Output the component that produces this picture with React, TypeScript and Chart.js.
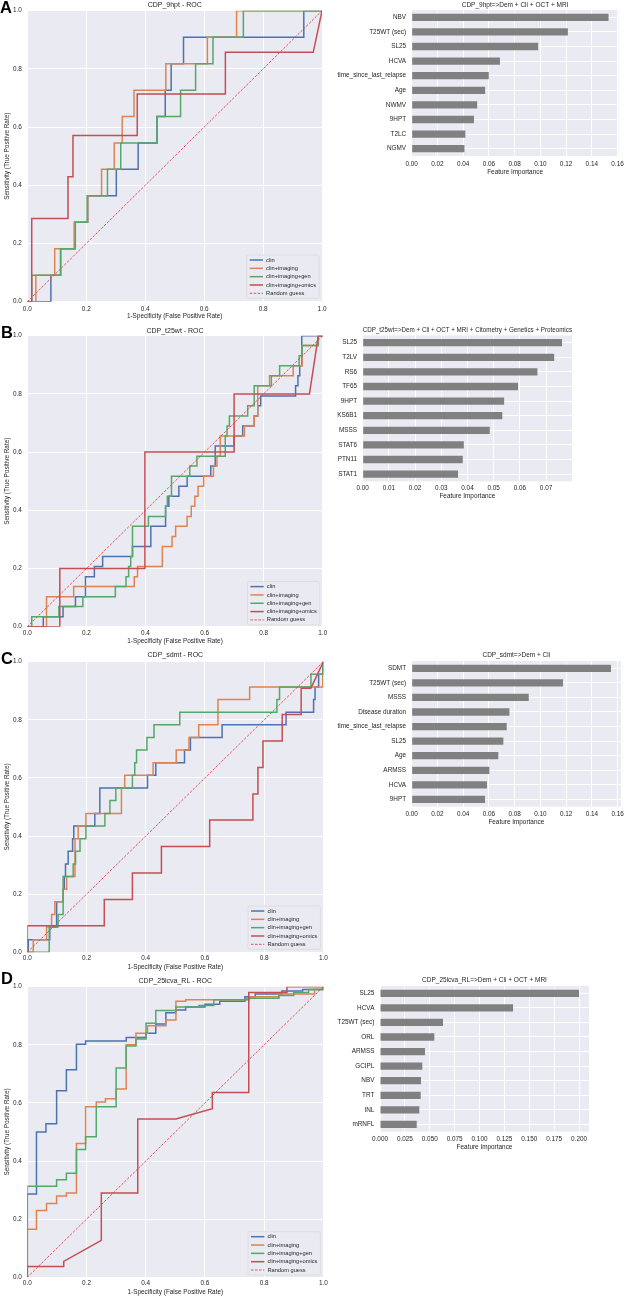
import React, { useEffect, useRef } from 'react';
import { Chart, registerables } from 'chart.js';

Chart.register(...registerables);

const FONT = "'Liberation Sans', Arial, Helvetica, sans-serif";
const TEXT = '#262626';
const BG = '#EAEAF2';
const BAR_COLOR = '#808080';
const COLORS = ['#4C72B0', '#DD8452', '#55A868', '#C44E52'];
const RANDOM_COLOR = '#E8403F';

Chart.defaults.font.family = FONT;
Chart.defaults.color = TEXT;

// ---------- DATA ----------
const seriesNames = ['clin', 'clin+imaging', 'clin+imaging+gen', 'clin+imaging+omics'];
const randomLabel = 'Random guess';
const randomGuess: [number, number][] = [[0, 0], [1, 1]];
const rocTicks = [0, 0.2, 0.4, 0.6, 0.8, 1.0];
const rocXLabel = '1-Specificity (False Positive Rate)';
const rocYLabel = 'Sensitivity (True Positive Rate)';
const barXLabel = 'Feature Importance';

type P = [number, number][];

// Panel A: CDP_9hpt
const rocA_clin: P = [[0,0],[0.08,0],[0.08,0.091],[0.113,0.091],[0.113,0.182],[0.16,0.182],[0.16,0.273],[0.205,0.273],[0.205,0.364],[0.302,0.364],[0.302,0.455],[0.376,0.455],[0.376,0.545],[0.44,0.545],[0.44,0.636],[0.468,0.636],[0.468,0.727],[0.488,0.727],[0.488,0.818],[0.53,0.818],[0.53,0.909],[0.938,0.909],[0.938,1],[1,1]];
const rocA_imaging: P = [[0,0],[0.029,0],[0.029,0.091],[0.093,0.091],[0.093,0.182],[0.16,0.182],[0.16,0.273],[0.205,0.273],[0.205,0.364],[0.252,0.364],[0.252,0.455],[0.295,0.455],[0.295,0.545],[0.322,0.545],[0.322,0.636],[0.362,0.636],[0.362,0.727],[0.47,0.727],[0.47,0.818],[0.611,0.818],[0.611,0.909],[0.71,0.909],[0.71,1],[1,1]];
const rocA_gen: P = [[0,0],[0.015,0],[0.015,0.091],[0.113,0.091],[0.113,0.182],[0.163,0.182],[0.163,0.273],[0.203,0.273],[0.203,0.364],[0.272,0.364],[0.272,0.455],[0.317,0.455],[0.317,0.545],[0.44,0.545],[0.44,0.636],[0.52,0.636],[0.52,0.727],[0.571,0.727],[0.571,0.818],[0.63,0.818],[0.63,0.909],[0.733,0.909],[0.733,1],[1,1]];
const rocA_omics: P = [[0,0],[0.015,0],[0.015,0.286],[0.138,0.286],[0.138,0.429],[0.155,0.429],[0.155,0.571],[0.373,0.571],[0.373,0.714],[0.672,0.714],[0.672,0.857],[0.97,0.857],[1,1]];

// Panel B: CDP_t25wt
const rocB_clin: P = [[0,0],[0.054,0],[0.054,0.034],[0.121,0.034],[0.121,0.069],[0.163,0.069],[0.163,0.103],[0.197,0.103],[0.197,0.172],[0.227,0.172],[0.227,0.207],[0.255,0.207],[0.255,0.241],[0.356,0.241],[0.356,0.276],[0.418,0.276],[0.418,0.345],[0.468,0.345],[0.468,0.414],[0.479,0.414],[0.479,0.448],[0.513,0.448],[0.513,0.483],[0.541,0.483],[0.541,0.517],[0.621,0.517],[0.621,0.552],[0.636,0.552],[0.636,0.621],[0.7,0.621],[0.7,0.655],[0.729,0.655],[0.729,0.69],[0.768,0.69],[0.768,0.724],[0.78,0.724],[0.78,0.759],[0.79,0.759],[0.79,0.793],[0.908,0.793],[0.908,0.828],[0.916,0.828],[0.916,0.862],[0.922,0.862],[0.922,0.897],[0.929,0.897],[0.929,1],[1,1]];
const rocB_imaging: P = [[0,0],[0.065,0],[0.065,0.103],[0.157,0.103],[0.157,0.138],[0.362,0.138],[0.362,0.172],[0.373,0.172],[0.373,0.207],[0.457,0.207],[0.457,0.276],[0.49,0.276],[0.49,0.31],[0.502,0.31],[0.502,0.345],[0.541,0.345],[0.541,0.379],[0.555,0.379],[0.555,0.414],[0.567,0.414],[0.567,0.448],[0.578,0.448],[0.578,0.483],[0.597,0.483],[0.597,0.517],[0.63,0.517],[0.63,0.552],[0.642,0.552],[0.642,0.586],[0.653,0.586],[0.653,0.655],[0.735,0.655],[0.735,0.69],[0.768,0.69],[0.768,0.724],[0.78,0.724],[0.78,0.828],[0.82,0.828],[0.82,0.862],[0.9,0.862],[0.9,0.897],[0.93,0.897],[0.93,0.966],[0.985,0.966],[0.985,1],[1,1]];
const rocB_gen: P = [[0,0],[0.015,0],[0.015,0.034],[0.107,0.034],[0.107,0.069],[0.188,0.069],[0.188,0.103],[0.298,0.103],[0.298,0.138],[0.334,0.138],[0.334,0.172],[0.343,0.172],[0.343,0.207],[0.35,0.207],[0.35,0.241],[0.356,0.241],[0.356,0.345],[0.41,0.345],[0.41,0.379],[0.468,0.379],[0.468,0.414],[0.474,0.414],[0.474,0.448],[0.488,0.448],[0.488,0.517],[0.55,0.517],[0.55,0.552],[0.574,0.552],[0.574,0.586],[0.67,0.586],[0.67,0.655],[0.676,0.655],[0.676,0.69],[0.684,0.69],[0.684,0.724],[0.746,0.724],[0.746,0.759],[0.768,0.759],[0.768,0.828],[0.826,0.828],[0.826,0.862],[0.854,0.862],[0.854,0.897],[0.92,0.897],[0.92,0.931],[0.93,0.931],[0.93,0.966],[0.985,0.966],[0.985,1],[1,1]];
const rocB_omics: P = [[0,0],[0.11,0],[0.11,0.2],[0.398,0.2],[0.398,0.6],[0.7,0.6],[0.7,0.8],[0.955,0.8],[0.985,1],[1,1]];

// Panel C: CDP_sdmt
const rocC_clin: P = [[0,0],[0.003,0],[0.003,0.043],[0.076,0.043],[0.076,0.087],[0.099,0.087],[0.099,0.174],[0.121,0.174],[0.121,0.217],[0.125,0.217],[0.125,0.261],[0.129,0.261],[0.129,0.304],[0.138,0.304],[0.138,0.348],[0.153,0.348],[0.153,0.391],[0.157,0.391],[0.157,0.435],[0.228,0.435],[0.228,0.478],[0.245,0.478],[0.245,0.565],[0.406,0.565],[0.406,0.609],[0.434,0.609],[0.434,0.652],[0.531,0.652],[0.531,0.696],[0.551,0.696],[0.551,0.739],[0.658,0.739],[0.658,0.783],[0.874,0.783],[0.874,0.826],[0.967,0.826],[0.967,0.87],[0.972,0.87],[0.972,0.913],[0.984,0.913],[0.984,0.957],[1,0.957],[1,1]];
const rocC_imaging: P = [[0,0],[0.02,0],[0.02,0.043],[0.065,0.043],[0.065,0.087],[0.082,0.087],[0.082,0.13],[0.093,0.13],[0.093,0.174],[0.121,0.174],[0.121,0.217],[0.133,0.217],[0.133,0.261],[0.161,0.261],[0.161,0.391],[0.172,0.391],[0.172,0.435],[0.198,0.435],[0.198,0.478],[0.318,0.478],[0.318,0.565],[0.329,0.565],[0.329,0.609],[0.425,0.609],[0.425,0.652],[0.503,0.652],[0.503,0.696],[0.546,0.696],[0.546,0.739],[0.579,0.739],[0.579,0.783],[0.644,0.783],[0.644,0.87],[0.751,0.87],[0.751,0.913],[0.998,0.913],[0.998,1],[1,1]];
const rocC_gen: P = [[0,0],[0.074,0],[0.074,0.087],[0.104,0.087],[0.104,0.13],[0.121,0.13],[0.121,0.261],[0.155,0.261],[0.155,0.304],[0.163,0.304],[0.163,0.348],[0.178,0.348],[0.178,0.391],[0.198,0.391],[0.198,0.435],[0.262,0.435],[0.262,0.478],[0.279,0.478],[0.279,0.522],[0.299,0.522],[0.299,0.565],[0.355,0.565],[0.355,0.609],[0.363,0.609],[0.363,0.652],[0.369,0.652],[0.369,0.696],[0.404,0.696],[0.404,0.739],[0.428,0.739],[0.428,0.783],[0.515,0.783],[0.515,0.826],[0.843,0.826],[0.843,0.87],[0.852,0.87],[0.852,0.913],[0.958,0.913],[0.958,0.957],[0.998,0.957],[0.998,1],[1,1]];
const rocC_omics: P = [[0,0],[0,0.091],[0.26,0.091],[0.26,0.182],[0.355,0.182],[0.355,0.273],[0.453,0.273],[0.453,0.364],[0.616,0.364],[0.616,0.455],[0.762,0.455],[0.762,0.545],[0.779,0.545],[0.779,0.636],[0.796,0.636],[0.796,0.727],[0.861,0.727],[0.861,0.818],[0.925,0.818],[0.925,0.909],[0.958,0.909],[1,1]];

// Panel D: CDP_25lcva_RL
const rocD_clin: P = [[0,0],[0,0.287],[0.031,0.287],[0.031,0.5],[0.063,0.5],[0.063,0.528],[0.099,0.528],[0.099,0.642],[0.132,0.642],[0.132,0.714],[0.166,0.714],[0.166,0.802],[0.197,0.802],[0.197,0.813],[0.334,0.813],[0.334,0.825],[0.401,0.825],[0.401,0.84],[0.434,0.84],[0.434,0.872],[0.468,0.872],[0.468,0.91],[0.502,0.91],[0.502,0.92],[0.535,0.92],[0.535,0.93],[0.6,0.93],[0.6,0.94],[0.65,0.94],[0.65,0.95],[0.735,0.95],[0.735,0.965],[0.77,0.965],[0.77,0.975],[0.86,0.975],[0.86,0.985],[0.93,0.985],[0.93,0.99],[1,0.99],[1,1]];
const rocD_imaging: P = [[0,0],[0,0.165],[0.031,0.165],[0.031,0.23],[0.065,0.23],[0.065,0.254],[0.099,0.254],[0.099,0.28],[0.132,0.28],[0.132,0.29],[0.166,0.29],[0.166,0.46],[0.197,0.46],[0.197,0.587],[0.233,0.587],[0.233,0.603],[0.264,0.603],[0.264,0.614],[0.3,0.614],[0.3,0.648],[0.334,0.648],[0.334,0.8],[0.367,0.8],[0.367,0.84],[0.406,0.84],[0.406,0.866],[0.468,0.866],[0.468,0.885],[0.502,0.885],[0.502,0.95],[0.535,0.95],[0.535,0.955],[0.75,0.955],[0.75,0.965],[0.85,0.965],[0.85,0.975],[0.97,0.975],[0.97,0.99],[1,0.99],[1,1]];
const rocD_gen: P = [[0,0],[0,0.313],[0.099,0.313],[0.099,0.336],[0.132,0.336],[0.132,0.358],[0.166,0.358],[0.166,0.44],[0.197,0.44],[0.197,0.484],[0.233,0.484],[0.233,0.587],[0.3,0.587],[0.3,0.72],[0.334,0.72],[0.334,0.796],[0.367,0.796],[0.367,0.82],[0.401,0.82],[0.401,0.874],[0.434,0.874],[0.434,0.918],[0.502,0.918],[0.502,0.93],[0.58,0.93],[0.58,0.935],[0.63,0.935],[0.63,0.955],[0.74,0.955],[0.74,0.96],[0.85,0.96],[0.85,0.97],[0.9,0.97],[0.9,0.98],[0.95,0.98],[0.95,0.99],[1,0.99],[1,1]];
const rocD_omics: P = [[0,0],[0,0.037],[0.123,0.037],[0.123,0.055],[0.25,0.127],[0.25,0.29],[0.373,0.29],[0.373,0.545],[0.502,0.545],[0.625,0.58],[0.625,0.636],[0.748,0.636],[0.748,0.98],[0.877,0.98],[0.877,1],[1,1]];

// Feature importance bars
const barA_labels = ['NBV', 'T25WT (sec)', 'SL25', 'HCVA', 'time_since_last_relapse', 'Age', 'NWMV', '9HPT', 'T2LC', 'NGMV'];
const barA_values = [0.153, 0.1214, 0.0983, 0.0686, 0.0599, 0.0571, 0.0509, 0.0484, 0.0417, 0.041];
const barA_ticks = [0, 0.02, 0.04, 0.06, 0.08, 0.1, 0.12, 0.14, 0.16];
const barA_xmax = 0.1607;

const barB_labels = ['SL25', 'T2LV', 'RS6', 'TF65', '9HPT', 'KS6B1', 'MSSS', 'STAT6', 'PTN11', 'STAT1'];
const barB_values = [0.0761, 0.0731, 0.0667, 0.0593, 0.054, 0.0533, 0.0485, 0.0386, 0.0382, 0.0364];
const barB_ticks = [0, 0.01, 0.02, 0.03, 0.04, 0.05, 0.06, 0.07];
const barB_xmax = 0.0799;

const barC_labels = ['SDMT', 'T25WT (sec)', 'MSSS', 'Disease duration', 'time_since_last_relapse', 'SL25', 'Age', 'ARMSS', 'HCVA', '9HPT'];
const barC_values = [0.1548, 0.1175, 0.0909, 0.0759, 0.0738, 0.0712, 0.0673, 0.0603, 0.0585, 0.057];
const barC_ticks = [0, 0.02, 0.04, 0.06, 0.08, 0.1, 0.12, 0.14, 0.16];
const barC_xmax = 0.1625;

const barD_labels = ['SL25', 'HCVA', 'T25WT (sec)', 'ORL', 'ARMSS', 'GCIPL', 'NBV', 'TRT', 'INL', 'mRNFL'];
const barD_values = [0.2, 0.1337, 0.0633, 0.0546, 0.0452, 0.0425, 0.0412, 0.0409, 0.0395, 0.0369];
const barD_ticks = [0, 0.025, 0.05, 0.075, 0.1, 0.125, 0.15, 0.175, 0.2];
const barD_xmax = 0.21;

// ---------- PLUGINS ----------
const bgPlugin = {
  id: 'axesBg',
  beforeDraw(chart: any) {
    const { ctx, chartArea } = chart;
    if (!chartArea) return;
    ctx.save();
    ctx.fillStyle = BG;
    ctx.fillRect(chartArea.left, chartArea.top, chartArea.right - chartArea.left, chartArea.bottom - chartArea.top);
    ctx.restore();
  },
};

function makeLegendPlugin(gap: number) {
  return {
    id: 'rocLegend',
    afterDraw(chart: any) {
      const { ctx, chartArea } = chart;
      const ds = chart.data.datasets;
      const fs = 5.7;
      ctx.save();
      ctx.font = `${fs}px ${FONT}`;
      let maxW = 0;
      ds.forEach((d: any) => { maxW = Math.max(maxW, ctx.measureText(d.label).width); });
      const w = 19.4 + maxW + 3;
      const h = 43.3;
      const x = chartArea.right - 3 - w;
      const y = chartArea.bottom - gap - h;
      const r = 1.5;
      ctx.beginPath();
      ctx.moveTo(x + r, y);
      ctx.lineTo(x + w - r, y);
      ctx.quadraticCurveTo(x + w, y, x + w, y + r);
      ctx.lineTo(x + w, y + h - r);
      ctx.quadraticCurveTo(x + w, y + h, x + w - r, y + h);
      ctx.lineTo(x + r, y + h);
      ctx.quadraticCurveTo(x, y + h, x, y + h - r);
      ctx.lineTo(x, y + r);
      ctx.quadraticCurveTo(x, y, x + r, y);
      ctx.closePath();
      ctx.fillStyle = 'rgba(234,234,242,0.8)';
      ctx.fill();
      ctx.strokeStyle = '#dadada';
      ctx.lineWidth = 0.8;
      ctx.stroke();
      ds.forEach((d: any, i: number) => {
        const cy = y + 5 + i * 8.33;
        ctx.beginPath();
        ctx.setLineDash(d.borderDash || []);
        ctx.strokeStyle = d.borderColor;
        ctx.lineWidth = d.borderWidth;
        ctx.moveTo(x + 3, cy);
        ctx.lineTo(x + 16.3, cy);
        ctx.stroke();
        ctx.setLineDash([]);
        ctx.fillStyle = TEXT;
        ctx.textBaseline = 'middle';
        ctx.textAlign = 'left';
        ctx.fillText(d.label, x + 19.4, cy);
      });
      ctx.restore();
    },
  };
}

type Geo = {
  left: number; top: number; w: number; h: number;
  axisLeft: number; padRight: number;
  titlePadTop: number; titlePadBottom: number;
  xAxisH: number; xTickPad: number; xTitlePadBottom: number;
  legendGap?: number;
};

const tickFont = { family: FONT, size: 6.4 };
const gridOpts = { color: '#ffffff', lineWidth: 1, drawTicks: false };

function RocChart({ title, curves, geo }: { title: string; curves: P[]; geo: Geo }) {
  const ref = useRef<HTMLCanvasElement | null>(null);
  useEffect(() => {
    if (!ref.current) return;
    const datasets: any[] = curves.map((c, i) => ({
      label: seriesNames[i],
      data: c.map(([x, y]) => ({ x, y })),
      borderColor: COLORS[i],
      borderWidth: 1.5,
      pointRadius: 0,
      tension: 0,
      fill: false,
      order: 5 - i,
    }));
    datasets.push({
      label: randomLabel,
      data: randomGuess.map(([x, y]) => ({ x, y })),
      borderColor: RANDOM_COLOR,
      borderWidth: 0.9,
      borderDash: [2.5, 1.5],
      pointRadius: 0,
      tension: 0,
      fill: false,
      order: 1,
    });
    const chart = new Chart(ref.current, {
      type: 'line',
      data: { datasets },
      options: {
        animation: false,
        responsive: false,
        devicePixelRatio: 1,
        events: [],
        layout: { padding: { left: 0, top: 0, right: geo.padRight, bottom: 0 } },
        plugins: {
          legend: { display: false },
          tooltip: { enabled: false },
          title: {
            display: true, text: title, fullSize: false, color: TEXT,
            font: { family: FONT, size: 7, weight: 'normal', lineHeight: 1.2 },
            padding: { top: geo.titlePadTop, bottom: geo.titlePadBottom },
          },
        },
        scales: {
          x: {
            type: 'linear', min: 0, max: 1,
            afterBuildTicks: (s: any) => { s.ticks = rocTicks.map((v) => ({ value: v })); },
            afterFit: (s: any) => { s.height = geo.xAxisH; },
            ticks: { autoSkip: false, maxRotation: 0, padding: geo.xTickPad, font: tickFont, color: TEXT, callback: (v: any) => Number(v).toFixed(1) },
            grid: gridOpts,
            border: { display: false },
            title: { display: true, text: rocXLabel, color: TEXT, font: { family: FONT, size: 6.4, lineHeight: 1.2 }, padding: { top: 0, bottom: geo.xTitlePadBottom } },
          },
          y: {
            type: 'linear', min: 0, max: 1,
            afterBuildTicks: (s: any) => { s.ticks = rocTicks.map((v) => ({ value: v })); },
            afterFit: (s: any) => { s.width = geo.axisLeft; },
            ticks: { autoSkip: false, padding: 5.5, font: tickFont, color: TEXT, callback: (v: any) => Number(v).toFixed(1) },
            grid: gridOpts,
            border: { display: false },
            title: { display: true, text: rocYLabel, color: TEXT, font: { family: FONT, size: 6.4, lineHeight: 1.2 }, padding: { top: 3.5, bottom: 0 } },
          },
        },
      } as any,
      plugins: [bgPlugin, makeLegendPlugin(geo.legendGap ?? 3)],
    });
    return () => chart.destroy();
  }, []);
  return (
    <canvas ref={ref} width={geo.w} height={geo.h}
      style={{ position: 'absolute', left: geo.left, top: geo.top, width: geo.w, height: geo.h }} />
  );
}

function BarChart({ title, labels, values, ticks, xmax, decimals, geo }:
  { title: string; labels: string[]; values: number[]; ticks: number[]; xmax: number; decimals: number; geo: Geo }) {
  const ref = useRef<HTMLCanvasElement | null>(null);
  useEffect(() => {
    if (!ref.current) return;
    const chart = new Chart(ref.current, {
      type: 'bar',
      data: {
        labels,
        datasets: [{ data: values, backgroundColor: BAR_COLOR, borderWidth: 0, barPercentage: 0.5, categoryPercentage: 1 }],
      },
      options: {
        indexAxis: 'y',
        animation: false,
        responsive: false,
        devicePixelRatio: 1,
        events: [],
        layout: { padding: { left: 0, top: 0, right: geo.padRight, bottom: 0 } },
        plugins: {
          legend: { display: false },
          tooltip: { enabled: false },
          title: {
            display: true, text: title, fullSize: false, color: TEXT,
            font: { family: FONT, size: 6.5, weight: 'normal', lineHeight: 1.2 },
            padding: { top: geo.titlePadTop, bottom: geo.titlePadBottom },
          },
        },
        scales: {
          x: {
            type: 'linear', min: 0, max: xmax,
            afterBuildTicks: (s: any) => { s.ticks = ticks.map((v) => ({ value: v })); },
            afterFit: (s: any) => { s.height = geo.xAxisH; },
            ticks: { autoSkip: false, maxRotation: 0, padding: geo.xTickPad, font: tickFont, color: TEXT, callback: (v: any) => Number(v).toFixed(decimals) },
            grid: gridOpts,
            border: { display: false },
            title: { display: true, text: barXLabel, color: TEXT, font: { family: FONT, size: 6.4, lineHeight: 1.2 }, padding: { top: 0, bottom: geo.xTitlePadBottom } },
          },
          y: {
            type: 'category',
            offset: true,
            afterFit: (s: any) => { s.width = geo.axisLeft; },
            ticks: { autoSkip: false, padding: 5.6, font: tickFont, color: TEXT },
            grid: { ...gridOpts, offset: false },
            border: { display: false },
          },
        },
      } as any,
      plugins: [bgPlugin],
    });
    return () => chart.destroy();
  }, []);
  return (
    <canvas ref={ref} width={geo.w} height={geo.h}
      style={{ position: 'absolute', left: geo.left, top: geo.top, width: geo.w, height: geo.h }} />
  );
}

const letterStyle = (left: number, top: number): React.CSSProperties => ({
  position: 'absolute', left, top, fontFamily: FONT, fontWeight: 'bold', fontSize: 16.5, lineHeight: '16.5px', color: '#000',
});

export default function App() {
  return (
    <div style={{ position: 'absolute', left: 0, top: 0, width: 628, height: 1299, background: '#ffffff', overflow: 'hidden' }}>
      <RocChart title="CDP_9hpt - ROC" curves={[rocA_clin, rocA_imaging, rocA_gen, rocA_omics]}
        geo={{ left: 0, top: 0, w: 330, h: 320, axisLeft: 27.3, padRight: 5, titlePadTop: 1.0, titlePadBottom: 1.3, xAxisH: 18.3, xTickPad: 3.5, xTitlePadBottom: 0.16, legendGap: 3.4 }} />
      <BarChart title="CDP_9hpt=>Dem + Cli + OCT + MRI" labels={barA_labels} values={barA_values} ticks={barA_ticks} xmax={barA_xmax} decimals={2}
        geo={{ left: 330, top: 0, w: 298, h: 177, axisLeft: 81.7, padRight: 7.1, titlePadTop: 1.1, titlePadBottom: 1.1, xAxisH: 21, xTickPad: 4.2, xTitlePadBottom: 0.86 }} />

      <RocChart title="CDP_t25wt - ROC" curves={[rocB_clin, rocB_imaging, rocB_gen, rocB_omics]}
        geo={{ left: 0, top: 320, w: 330, h: 326, axisLeft: 27.3, padRight: 5, titlePadTop: 6.5, titlePadBottom: 0.8, xAxisH: 19.3, xTickPad: 2.8, xTitlePadBottom: 0.46, legendGap: 1.8 }} />
      <BarChart title="CDP_t25wt=>Dem + Cli + OCT + MRI + Citometry + Genetics + Proteomics" labels={barB_labels} values={barB_values} ticks={barB_ticks} xmax={barB_xmax} decimals={2}
        geo={{ left: 330, top: 320, w: 298, h: 180, axisLeft: 32.7, padRight: 56, titlePadTop: 6.8, titlePadBottom: 0.8, xAxisH: 18.6, xTickPad: 3.1, xTitlePadBottom: 0.16 }} />

      <RocChart title="CDP_sdmt - ROC" curves={[rocC_clin, rocC_imaging, rocC_gen, rocC_omics]}
        geo={{ left: 0, top: 645, w: 330, h: 327, axisLeft: 27.3, padRight: 6, titlePadTop: 5.8, titlePadBottom: 2.5, xAxisH: 19.7, xTickPad: 2.2, xTitlePadBottom: 0.86, legendGap: 3 }} />
      <BarChart title="CDP_sdmt=>Dem + Cli" labels={barC_labels} values={barC_values} ticks={barC_ticks} xmax={barC_xmax} decimals={2}
        geo={{ left: 330, top: 640, w: 298, h: 186, axisLeft: 81.7, padRight: 7.1, titlePadTop: 11.1, titlePadBottom: 2.1, xAxisH: 19.3, xTickPad: 3.5, xTitlePadBottom: 0.16 }} />

      <RocChart title="CDP_25lcva_RL - ROC" curves={[rocD_clin, rocD_imaging, rocD_gen, rocD_omics]}
        geo={{ left: 0, top: 970, w: 330, h: 327, axisLeft: 27.3, padRight: 5, titlePadTop: 6.5, titlePadBottom: 1.8, xAxisH: 19.7, xTickPad: 2.2, xTitlePadBottom: 0.86, legendGap: 2.3 }} />
      <BarChart title="CDP_25lcva_RL=>Dem + Cli + OCT + MRI" labels={barD_labels} values={barD_values} ticks={barD_ticks} xmax={barD_xmax} decimals={3}
        geo={{ left: 330, top: 960, w: 298, h: 192, axisLeft: 50, padRight: 39, titlePadTop: 16.8, titlePadBottom: 1.4, xAxisH: 20.3, xTickPad: 3.8, xTitlePadBottom: 0.66 }} />

      <div style={letterStyle(0, -1.3)}>A</div>
      <div style={letterStyle(1, 324.3)}>B</div>
      <div style={letterStyle(1, 650)}>C</div>
      <div style={letterStyle(1, 970.3)}>D</div>
    </div>
  );
}
